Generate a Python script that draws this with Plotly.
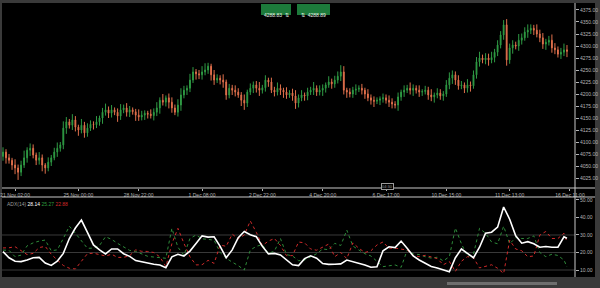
import plotly.graph_objects as go

# ---------------- data ----------------
first_open = 4070
closes = [
    4079, 4067, 4062, 4052, 4046, 4037, 4052, 4067, 4083, 4087,
    4073, 4062, 4067, 4052, 4046, 4058, 4067, 4079, 4087, 4094,
    4129, 4142, 4135, 4146, 4131, 4125, 4135, 4119, 4129, 4137,
    4136, 4142, 4150, 4162, 4167, 4160, 4167, 4162, 4154, 4167,
    4171, 4162, 4167, 4163, 4156, 4152, 4156, 4160, 4158, 4155,
    4162, 4171, 4187, 4183, 4192, 4183, 4171, 4162, 4177, 4198,
    4208, 4212, 4229, 4246, 4242, 4240, 4246, 4250, 4258, 4240,
    4229, 4233, 4229, 4225, 4198, 4212, 4208, 4204, 4198, 4187,
    4181, 4204, 4212, 4219, 4212, 4208, 4213, 4229, 4225, 4208,
    4204, 4212, 4208, 4204, 4198, 4202, 4196, 4181, 4192, 4198,
    4196, 4204, 4208, 4212, 4204, 4208, 4212, 4219, 4225, 4221,
    4229, 4237, 4246, 4208, 4204, 4200, 4208, 4210, 4212, 4208,
    4200, 4192, 4187, 4185, 4187, 4190, 4192, 4187, 4183, 4179,
    4177, 4194, 4204, 4208, 4212, 4208, 4212, 4208, 4204, 4205,
    4208, 4198, 4194, 4198, 4202, 4196, 4200, 4219, 4233, 4240,
    4229, 4217, 4219, 4212, 4219, 4217, 4240, 4267, 4275, 4271,
    4275, 4271, 4276, 4287, 4302, 4323, 4344, 4271, 4296, 4302,
    4300, 4312, 4317, 4329, 4333, 4337, 4333, 4325, 4317, 4304,
    4308, 4312, 4296, 4292, 4283, 4287, 4292, 4288.83,
]
wick_hi = [
    10, 6, 8, 5, 12, 7, 9, 15, 6, 10,
    8, 5, 12, 7, 4, 10, 6, 9, 12, 6,
    14, 10, 6, 12, 8, 5, 13, 7, 10, 8,
    6, 12, 5, 9, 13, 7, 10, 5, 8, 12,
    7, 10, 8, 5, 6, 12, 9, 6, 5, 10,
    8, 12, 6, 13, 5, 9, 10, 7, 12, 14,
    9, 6, 13, 10, 6, 8, 12, 14, 7, 5,
    10, 8, 6, 12, 5, 9, 7, 10, 8, 6,
    12, 5, 10, 7, 8, 13, 6, 10, 5, 9,
    7, 12, 8, 5, 10, 6, 9, 12, 7, 10,
    5, 9, 7, 13, 6, 10, 8, 5, 12, 7,
    9, 10, 14, 12, 5, 8, 7, 10, 6, 9,
    5, 10, 7, 8, 6, 5, 9, 7, 10, 8,
    6, 9, 5, 10, 7, 12, 8, 6, 10, 5,
    9, 7, 12, 5, 10, 8, 6, 10, 12, 9,
    7, 10, 8, 5, 12, 7, 9, 10, 13, 7,
    10, 9, 12, 7, 10, 8, 10, 12, 9, 10,
    7, 13, 9, 10, 12, 8, 7, 12, 9, 10,
    7, 9, 12, 10, 7, 9, 13, 10,
]
wick_lo = [
    9, 12, 7, 10, 13, 16, 8, 6, 10, 12,
    7, 10, 9, 13, 12, 7, 8, 5, 10, 7,
    9, 12, 7, 10, 9, 12, 7, 10, 8, 6,
    10, 7, 8, 12, 7, 10, 9, 6, 12, 8,
    7, 9, 10, 6, 12, 8, 7, 10, 9, 6,
    10, 8, 12, 7, 9, 13, 10, 6, 9, 12,
    7, 10, 8, 6, 12, 9, 10, 7, 8, 12,
    10, 6, 9, 12, 10, 7, 10, 9, 6, 12,
    14, 8, 6, 10, 9, 12, 7, 8, 10, 6,
    9, 7, 10, 12, 8, 6, 10, 12, 9, 7,
    10, 9, 6, 10, 8, 7, 12, 9, 6, 10,
    8, 7, 10, 9, 12, 7, 8, 10, 6, 9,
    10, 7, 9, 12, 6, 10, 8, 7, 10, 9,
    7, 12, 8, 10, 6, 9, 12, 7, 10, 8,
    6, 10, 9, 12, 7, 8, 10, 6, 9, 12,
    10, 8, 7, 10, 9, 12, 6, 8, 10, 7,
    9, 12, 7, 10, 8, 7, 10, 12, 8, 12,
    7, 10, 9, 6, 12, 8, 10, 7, 9, 10,
    12, 7, 10, 9, 7, 10, 8, 12,
]

# ADX(14) panel, sampled every second bar (bar index)
adx_vals = [
    20.5, 17, 15, 14.8, 15.7, 17, 17.2, 14, 12.6, 15,
    19.5, 28, 34, 38.5, 31.5, 24.3, 21.5, 19.2, 22, 22,
    19.3, 17.8, 15.4, 14.6, 13.8, 13.3, 12.9, 11.3, 17.5, 19,
    18, 20.8, 25.2, 29.5, 28.8, 29, 23.5, 17, 21.5, 28.5,
    32, 30.2, 29, 23.5, 19.2, 19.5, 18.6, 15.8, 13, 12.5,
    16.5, 18.1, 16.7, 13.7, 13.2, 13.3, 13.5, 15.7, 14.8, 13.8,
    12.9, 11.6, 11.8, 21, 23.3, 22.8, 26.5, 22.4, 18, 15.7,
    13.8, 12, 11.2, 10.2, 9, 17, 22, 19.5, 17, 23,
    31, 31.6, 34.5, 46, 39, 29.5, 25.3, 26.2, 25, 23,
    23.4, 23, 23, 29, 28.14,
]
plus_di = [
    21.4, 21.2, 17.6, 18.5, 23.8, 25.5, 26.5, 27.1, 21, 21.5,
    28, 35, 31, 26.5, 22.4, 22.5, 24, 29, 27.5, 25.2,
    23, 21.2, 20.6, 19.2, 17.8, 17.4, 17, 16.7, 33.8, 23,
    18.5, 28, 30, 27.8, 27.5, 27, 20, 16.7, 14.5, 12.5,
    10, 21.4, 23.5, 24.5, 19.5, 20.8, 28, 18.8, 18, 15.3,
    15.7, 17.6, 19.3, 22, 21.6, 25.2, 24, 32.8, 23.7, 21.4,
    19.3, 18, 14.7, 11.9, 12.4, 12.9, 11.5, 21.3, 19.2, 18.8,
    17.6, 16.8, 17.3, 15.2, 17.6, 34, 25, 17.8, 19, 33.8,
    31, 26, 25, 35, 25, 28.5, 28, 28, 29.5, 20,
    17.6, 19, 18.3, 15.7, 11.7,
]
minus_di = [
    22.6, 22.7, 23.3, 21, 18.8, 19.5, 22.8, 23.5, 19, 15.7,
    12.6, 11, 10.6, 15, 19.3, 19.6, 18.6, 18, 19, 17.2,
    17.2, 18.2, 21.5, 20.7, 20.6, 20, 17.5, 12, 25, 33.8,
    25.2, 17.5, 12.9, 13, 15.5, 13.8, 24.3, 23.5, 30.5, 27.8,
    30, 38, 31.5, 24, 26.5, 28, 24, 18.2, 18.2, 26,
    25.5, 22, 21.3, 23, 24.8, 17.6, 20, 16.5, 25.5, 22.4,
    20, 21, 24.3, 26, 22.4, 22.5, 22, 21.4, 18.4, 17.6,
    18.4, 17.4, 16.5, 13, 14.8, 9.2, 15, 17.6, 17, 11.2,
    12, 13, 11, 8, 27, 22, 21, 17.6, 18, 30,
    32, 28, 28, 31, 26,
]
adx_levels = [10, 20, 30]

time_tick_bars = [4, 25, 45, 66, 86, 106, 127, 147, 168, 188]
time_tick_text = ["21 Nov 02:00", "25 Nov 00:00", "28 Nov 22:00", "1 Dec 08:00",
                  "2 Dec 22:00", "4 Dec 20:00", "6 Dec 17:00", "10 Dec 15:00",
                  "11 Dec 13:00", "16 Dec 11:00"]
bid_text = "4288.83"
ask_text = "4288.89"
adx_label = ("ADX(14) ", "28.14", "25.27", "22.88")

# ---------------- derived OHLC ----------------
n = len(closes)
bars = list(range(n))
opens = [first_open] + closes[:-1]
highs = [max(o, c) + w for o, c, w in zip(opens, closes, wick_hi)]
lows = [min(o, c) - w for o, c, w in zip(opens, closes, wick_lo)]
adx_bars = list(range(0, n - 1, 2)) + [n - 1]

GREEN = "#2f9a44"
RED = "#e0704c"
AXC = "#b4b4b4"
FONT = dict(family="Liberation Sans, Arial, sans-serif", size=5, color=AXC)

fig = go.Figure()
fig.add_trace(go.Candlestick(
    x=bars, open=opens, high=highs, low=lows, close=closes,
    increasing=dict(line=dict(color=GREEN, width=1), fillcolor=GREEN),
    decreasing=dict(line=dict(color=RED, width=1), fillcolor=RED),
    whiskerwidth=0, showlegend=False, hoverinfo="skip",
    xaxis="x", yaxis="y",
))
fig.add_trace(go.Scatter(x=adx_bars, y=plus_di, mode="lines",
                         line=dict(color="#2e8b3a", width=1, dash="dot"),
                         xaxis="x2", yaxis="y2", showlegend=False))
fig.add_trace(go.Scatter(x=adx_bars, y=minus_di, mode="lines",
                         line=dict(color="#d02a2a", width=1, dash="dot"),
                         xaxis="x2", yaxis="y2", showlegend=False))
fig.add_trace(go.Scatter(x=adx_bars, y=adx_vals, mode="lines",
                         line=dict(color="#ffffff", width=1.6),
                         xaxis="x2", yaxis="y2", showlegend=False))

W, H = 600, 288
def px(x):
    return x / W
def py(y):
    return 1 - y / H

xdom = [px(2), px(575)]
xr = [-0.33, 189.66]

fig.update_layout(
    width=W, height=H, margin=dict(l=0, r=0, t=0, b=0),
    paper_bgcolor="#3a3a3a", plot_bgcolor="#000000",
    font=FONT, showlegend=False, boxgap=0.6,
    xaxis=dict(domain=xdom, range=xr, type="linear", rangeslider=dict(visible=False),
               tickmode="array", tickvals=time_tick_bars, ticktext=time_tick_text,
               ticks="outside", ticklen=2, tickcolor=AXC, showgrid=False, zeroline=False,
               showline=False, anchor="y", automargin=False, tickfont=FONT),
    yaxis=dict(domain=[py(188), py(5)], range=[4004.2, 4385.4], side="right",
               tick0=4025, dtick=25, tickformat=".2f", ticks="outside", ticklen=3,
               tickcolor=AXC, showgrid=False, zeroline=False, anchor="x",
               automargin=False, tickfont=FONT),
    xaxis2=dict(domain=xdom, range=xr, matches="x", showticklabels=False, showgrid=False,
                zeroline=False, anchor="y2", automargin=False),
    yaxis2=dict(domain=[py(277), py(197)], range=[6, 51.7], side="right",
                tickvals=[10, 20, 30, 40, 50], tickformat=".2f", ticks="outside", ticklen=3,
                tickcolor=AXC, showgrid=False, zeroline=False, anchor="x2",
                automargin=False, tickfont=FONT),
)

shapes = []
shapes.append(dict(type="rect", xref="paper", yref="paper", x0=px(2), x1=px(595),
                   y0=py(277), y1=py(3), fillcolor="#000000", line=dict(width=0), layer="below"))
for lv in adx_levels:
    shapes.append(dict(type="line", xref="x2 domain", yref="y2", x0=0, x1=1, y0=lv, y1=lv,
                       line=dict(color="#3a3a3a", width=1), layer="below"))
for yy in (188, 197):
    shapes.append(dict(type="line", xref="paper", yref="paper", x0=px(2), x1=px(595),
                       y0=py(yy), y1=py(yy), line=dict(color="#c8c8c8", width=1)))
shapes.append(dict(type="line", xref="paper", yref="paper", x0=px(575), x1=px(575),
                   y0=py(277), y1=py(3), line=dict(color="#c8c8c8", width=1)))
shapes.append(dict(type="rect", xref="paper", yref="paper", x0=px(447), x1=px(557),
                   y0=py(285), y1=py(282), fillcolor="#6e6e6e", line=dict(width=0)))
for x0, x1 in ((261, 291), (297, 330)):
    shapes.append(dict(type="rect", xref="paper", yref="paper", x0=px(x0), x1=px(x1),
                       y0=py(15), y1=py(4), fillcolor="#1d7a3b", line=dict(width=0)))
fig.update_layout(shapes=shapes)

ann = []
ann.append(dict(x=px(276), y=py(9.5), xref="paper", yref="paper", showarrow=False,
                text=bid_text + "  \u21c5", font=dict(family=FONT["family"], size=5, color="#e8f5e8")))
ann.append(dict(x=px(313.5), y=py(9.5), xref="paper", yref="paper", showarrow=False,
                text="\u21c5  " + ask_text, font=dict(family=FONT["family"], size=5, color="#e8f5e8")))
ann.append(dict(x=px(5), y=py(204), xref="paper", yref="paper", showarrow=False,
                xanchor="left", yanchor="middle",
                text=(adx_label[0] + "<span style='color:#ffffff'>" + adx_label[1] + "</span> "
                      + "<span style='color:#2e9b3e'>" + adx_label[2] + "</span> "
                      + "<span style='color:#d02a2a'>" + adx_label[3] + "</span>"),
                font=dict(family=FONT["family"], size=5, color="#9a9a9a")))
ann.append(dict(x=px(387), y=py(186.5), xref="paper", yref="paper", showarrow=False,
                text="04:30", bgcolor="#000000", bordercolor="#9a9a9a", borderwidth=1, borderpad=0,
                font=dict(family=FONT["family"], size=4, color="#9a9a9a")))
fig.update_layout(annotations=ann)

fig.write_html("out.html")
